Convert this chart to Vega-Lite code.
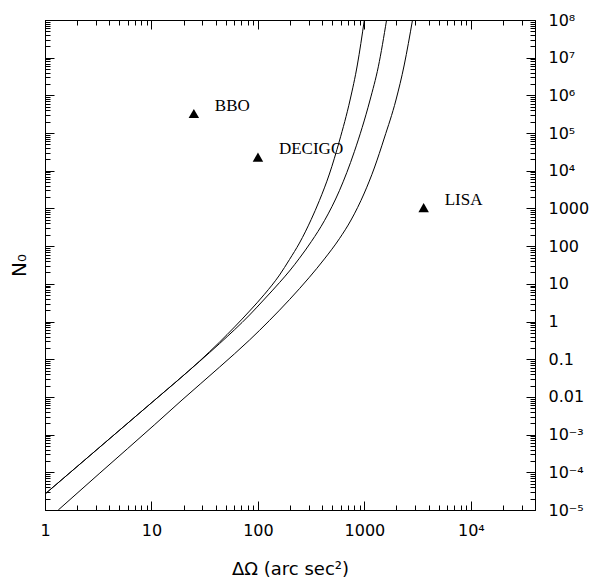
{
  "$schema": "https://vega.github.io/schema/vega-lite/v6.json",
  "width": 490,
  "height": 490,
  "autosize": "none",
  "padding": {"left": 45, "top": 20, "right": 55, "bottom": 70},
  "config": {
    "view": {"stroke": "black", "strokeWidth": 1},
    "axis": {
      "grid": false,
      "domainColor": "black",
      "tickColor": "black",
      "tickWidth": 1,
      "labelColor": "black",
      "titleColor": "black",
      "labelFont": "DejaVu Sans",
      "titleFont": "DejaVu Sans",
      "labelFontSize": 16,
      "titleFontSize": 18,
      "titleFontWeight": "normal",
      "labelOverlap": false,
      "labelFlush": false
    }
  },
  "datasets": {
    "curves": [
      {"curve": "a", "dOmega": 1, "N0": 2.65e-5},
      {"curve": "a", "dOmega": 3.278, "N0": 4.69e-4},
      {"curve": "a", "dOmega": 10.74, "N0": 8.28e-3},
      {"curve": "a", "dOmega": 28.36, "N0": 0.0897},
      {"curve": "a", "dOmega": 43.66, "N0": 0.286},
      {"curve": "a", "dOmega": 83.4, "N0": 1.9},
      {"curve": "a", "dOmega": 115.3, "N0": 5.31},
      {"curve": "a", "dOmega": 159.4, "N0": 17.1},
      {"curve": "a", "dOmega": 197.8, "N0": 44.2},
      {"curve": "a", "dOmega": 245.4, "N0": 121},
      {"curve": "a", "dOmega": 315.9, "N0": 506},
      {"curve": "a", "dOmega": 377.8, "N0": 1626},
      {"curve": "a", "dOmega": 468.8, "N0": 8204},
      {"curve": "a", "dOmega": 582, "N0": 61650},
      {"curve": "a", "dOmega": 733, "N0": 754000},
      {"curve": "a", "dOmega": 858, "N0": 6400000},
      {"curve": "a", "dOmega": 998, "N0": 100000000},
      {"curve": "b", "dOmega": 1, "N0": 2.65e-5},
      {"curve": "b", "dOmega": 3.278, "N0": 4.69e-4},
      {"curve": "b", "dOmega": 10.74, "N0": 8.28e-3},
      {"curve": "b", "dOmega": 28.36, "N0": 0.088},
      {"curve": "b", "dOmega": 43.66, "N0": 0.261},
      {"curve": "b", "dOmega": 83.4, "N0": 1.49},
      {"curve": "b", "dOmega": 115.3, "N0": 3.96},
      {"curve": "b", "dOmega": 159.4, "N0": 10.8},
      {"curve": "b", "dOmega": 197.8, "N0": 21.9},
      {"curve": "b", "dOmega": 245.4, "N0": 47.9},
      {"curve": "b", "dOmega": 317.9, "N0": 133.6},
      {"curve": "b", "dOmega": 421, "N0": 473},
      {"curve": "b", "dOmega": 582, "N0": 2958},
      {"curve": "b", "dOmega": 804, "N0": 32060},
      {"curve": "b", "dOmega": 1129, "N0": 754000},
      {"curve": "b", "dOmega": 1350, "N0": 5730000},
      {"curve": "b", "dOmega": 1615, "N0": 100000000},
      {"curve": "c", "dOmega": 1.332, "N0": 1e-5},
      {"curve": "c", "dOmega": 3.278, "N0": 9.57e-5},
      {"curve": "c", "dOmega": 10.74, "N0": 1.853e-3},
      {"curve": "c", "dOmega": 19.36, "N0": 8.28e-3},
      {"curve": "c", "dOmega": 43.66, "N0": 0.0621},
      {"curve": "c", "dOmega": 83.4, "N0": 0.3236},
      {"curve": "c", "dOmega": 128.5, "N0": 1.071},
      {"curve": "c", "dOmega": 197.8, "N0": 3.82},
      {"curve": "c", "dOmega": 304.5, "N0": 15.0},
      {"curve": "c", "dOmega": 421, "N0": 45.8},
      {"curve": "c", "dOmega": 582, "N0": 157.5},
      {"curve": "c", "dOmega": 749, "N0": 494},
      {"curve": "c", "dOmega": 998, "N0": 2570},
      {"curve": "c", "dOmega": 1238, "N0": 11830},
      {"curve": "c", "dOmega": 1537, "N0": 73960},
      {"curve": "c", "dOmega": 1978, "N0": 754000},
      {"curve": "c", "dOmega": 2365, "N0": 6400000},
      {"curve": "c", "dOmega": 2829, "N0": 100000000}
    ],
    "points": [
      {"name": "BBO", "dOmega": 25, "N0": 330000},
      {"name": "DECIGO", "dOmega": 100, "N0": 23000},
      {"name": "LISA", "dOmega": 3600, "N0": 1050}
    ]
  },
  "layer": [
    {
      "data": {"name": "curves"},
      "mark": {"type": "line", "color": "black", "strokeWidth": 1, "clip": true, "interpolate": "monotone"},
      "encoding": {
        "x": {
          "field": "dOmega", "type": "quantitative",
          "scale": {"type": "log", "domain": [1, 40000], "nice": false},
          "axis": {
            "orient": "bottom",
            "title": "ΔΩ (arc sec²)",
            "titleBaseline": "alphabetic",
            "titleY": 64,
            "values": [1,2,3,4,5,6,7,8,9,10,20,30,40,50,60,70,80,90,100,200,300,400,500,600,700,800,900,1000,2000,3000,4000,5000,6000,7000,8000,9000,10000,20000,30000],
            "labelExpr": "abs(log(datum.value)/LN10 - round(log(datum.value)/LN10)) < 1e-6 ? ['1','10','100','1000','10⁴'][round(log(datum.value)/LN10)] : ''",
            "tickSize": {"condition": {"test": "abs(log(datum.value)/LN10 - round(log(datum.value)/LN10)) < 1e-6", "value": -9}, "value": -5},
            "labelPadding": 21
          }
        },
        "y": {
          "field": "N0", "type": "quantitative",
          "scale": {"type": "log", "domain": [1e-5, 1e8], "nice": false},
          "axis": {
            "orient": "right",
            "title": null,
            "values": [1e-5,2e-5,3e-5,4e-5,5e-5,6e-5,7e-5,8e-5,9e-5,1e-4,2e-4,3e-4,4e-4,5e-4,6e-4,7e-4,8e-4,9e-4,1e-3,2e-3,3e-3,4e-3,5e-3,6e-3,7e-3,8e-3,9e-3,1e-2,2e-2,3e-2,4e-2,5e-2,6e-2,7e-2,8e-2,9e-2,0.1,0.2,0.3,0.4,0.5,0.6,0.7,0.8,0.9,1,2,3,4,5,6,7,8,9,10,20,30,40,50,60,70,80,90,100,200,300,400,500,600,700,800,900,1000,2000,3000,4000,5000,6000,7000,8000,9000,1e4,2e4,3e4,4e4,5e4,6e4,7e4,8e4,9e4,1e5,2e5,3e5,4e5,5e5,6e5,7e5,8e5,9e5,1e6,2e6,3e6,4e6,5e6,6e6,7e6,8e6,9e6,1e7,2e7,3e7,4e7,5e7,6e7,7e7,8e7,9e7,1e8],
            "labelExpr": "abs(log(datum.value)/LN10 - round(log(datum.value)/LN10)) < 1e-6 ? ['10⁻⁵','10⁻⁴','10⁻³','0.01','0.1','1','10','100','1000','10⁴','10⁵','10⁶','10⁷','10⁸'][round(log(datum.value)/LN10)+5] : ''",
            "tickSize": {"condition": {"test": "abs(log(datum.value)/LN10 - round(log(datum.value)/LN10)) < 1e-6", "value": -9}, "value": -5},
            "labelPadding": 22,
            "labelAlign": "left",
            "labelBaseline": "middle"
          }
        },
        "detail": {"field": "curve", "type": "nominal"}
      }
    },
    {
      "data": {"name": "points"},
      "mark": {"type": "point", "shape": "triangle-up", "filled": true, "color": "black", "opacity": 1, "size": 110},
      "encoding": {
        "x": {
          "field": "dOmega", "type": "quantitative",
          "axis": {
            "orient": "top",
            "title": null,
            "labels": false,
            "values": [1,2,3,4,5,6,7,8,9,10,20,30,40,50,60,70,80,90,100,200,300,400,500,600,700,800,900,1000,2000,3000,4000,5000,6000,7000,8000,9000,10000,20000,30000],
            "tickSize": {"condition": {"test": "abs(log(datum.value)/LN10 - round(log(datum.value)/LN10)) < 1e-6", "value": -9}, "value": -5}
          }
        },
        "y": {
          "field": "N0", "type": "quantitative",
          "axis": {
            "orient": "left",
            "title": "N₀",
            "titleFontSize": 20,
            "titleBaseline": "alphabetic",
            "titleX": -20,
            "labels": false,
            "values": [1e-5,2e-5,3e-5,4e-5,5e-5,6e-5,7e-5,8e-5,9e-5,1e-4,2e-4,3e-4,4e-4,5e-4,6e-4,7e-4,8e-4,9e-4,1e-3,2e-3,3e-3,4e-3,5e-3,6e-3,7e-3,8e-3,9e-3,1e-2,2e-2,3e-2,4e-2,5e-2,6e-2,7e-2,8e-2,9e-2,0.1,0.2,0.3,0.4,0.5,0.6,0.7,0.8,0.9,1,2,3,4,5,6,7,8,9,10,20,30,40,50,60,70,80,90,100,200,300,400,500,600,700,800,900,1000,2000,3000,4000,5000,6000,7000,8000,9000,1e4,2e4,3e4,4e4,5e4,6e4,7e4,8e4,9e4,1e5,2e5,3e5,4e5,5e5,6e5,7e5,8e5,9e5,1e6,2e6,3e6,4e6,5e6,6e6,7e6,8e6,9e6,1e7,2e7,3e7,4e7,5e7,6e7,7e7,8e7,9e7,1e8],
            "tickSize": {"condition": {"test": "abs(log(datum.value)/LN10 - round(log(datum.value)/LN10)) < 1e-6", "value": -9}, "value": -5}
          }
        }
      }
    },
    {
      "data": {"name": "points"},
      "mark": {"type": "text", "align": "left", "baseline": "middle", "dx": 21, "dy": -8, "font": "Liberation Serif", "fontSize": 17, "color": "black"},
      "encoding": {
        "x": {"field": "dOmega", "type": "quantitative", "axis": null},
        "y": {"field": "N0", "type": "quantitative", "axis": null},
        "text": {"field": "name", "type": "nominal"}
      }
    }
  ],
  "resolve": {"axis": {"x": "independent", "y": "independent"}}
}
